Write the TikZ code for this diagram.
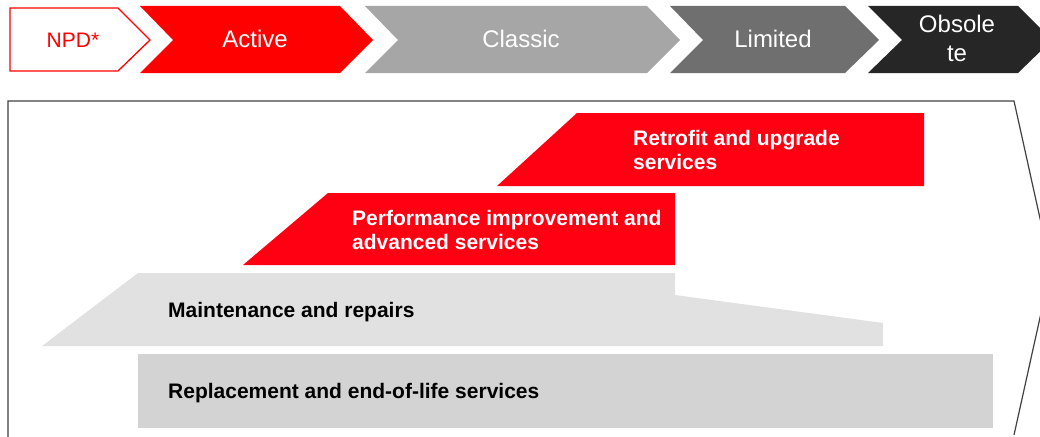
\documentclass[tikz,border=0pt]{standalone}
\usepackage{fontspec}
\setmainfont{Liberation Sans}
\definecolor{redA}{HTML}{FF0000}
\definecolor{redB}{HTML}{FF0013}
\definecolor{classicC}{HTML}{A6A6A6}
\definecolor{limitedC}{HTML}{6F6F6F}
\definecolor{obsoleteC}{HTML}{262626}
\definecolor{maintC}{HTML}{E1E1E1}
\definecolor{replC}{HTML}{D3D3D3}
\definecolor{frameC}{HTML}{404040}
\begin{document}
\begin{tikzpicture}[x=1pt,y=-1pt,
  phasetxt/.style={font=\fontsize{24}{28}\selectfont, text=white, inner sep=0, anchor=base, align=center},
  boxtxt/.style={font=\fontsize{21}{24}\selectfont\bfseries, inner sep=0, anchor=base west},
  frameline/.style={draw=frameC, line width=1.2pt}]
\useasboundingbox (0,0) rectangle (1040,436);
\clip (0,0) rectangle (1040,436);
% phase chevrons
\draw[redA, line width=1.3pt, fill=white] (10,8) -- (118,8) -- (150,40) -- (118,71) -- (10,71) -- cycle;
\fill[redA] (140,6) -- (340,6) -- (373,40) -- (340,73) -- (140,73) -- (173,40) -- cycle;
\fill[classicC] (365,6) -- (647,6) -- (680,40) -- (647,73) -- (365,73) -- (398,40) -- cycle;
\fill[limitedC] (670,6) -- (845,6) -- (879,40) -- (845,73) -- (670,73) -- (703,40) -- cycle;
\fill[obsoleteC] (868,6) -- (1018,6) -- (1052,40) -- (1018,73) -- (868,73) -- (902,40) -- cycle;
\node[phasetxt, text=redA, font=\fontsize{21}{24}\selectfont] (npd) at (73,48) {NPD*};
\node[phasetxt] (active) at (255,48) {Active};
\node[phasetxt] (classic) at (521,48) {Classic};
\node[phasetxt] (limited) at (773,48) {Limited};
\node[phasetxt] (obs1) at (957,33) {Obsole};
\node[phasetxt] (obs2) at (957,61) {te};
% frame
\draw[frameline] (8,445) -- (8,101) -- (1014,101) -- (1051,268) -- (1014,435);
% service bands
\fill[redB] (497,186) -- (577,113) -- (924,113) -- (924,186) -- cycle;
\fill[redB] (243,265) -- (328,193) -- (675,193) -- (675,265) -- cycle;
\fill[maintC] (42,346) -- (138,273) -- (675,273) -- (675,295) -- (883,323) -- (883,346) -- cycle;
\fill[replC] (138,354) rectangle (993,428);
\node[boxtxt, text=white] (retro1) at (633,145) {Retrofit and upgrade};
\node[boxtxt, text=white] (retro2) at (633,169) {services};
\node[boxtxt, text=white] (perf1) at (352,225) {Performance improvement and};
\node[boxtxt, text=white] (perf2) at (352,249) {advanced services};
\node[boxtxt, text=black] (maint) at (168,317) {Maintenance and repairs};
\node[boxtxt, text=black] (repl) at (168,398) {Replacement and end-of-life services};
\end{tikzpicture}
\end{document}
